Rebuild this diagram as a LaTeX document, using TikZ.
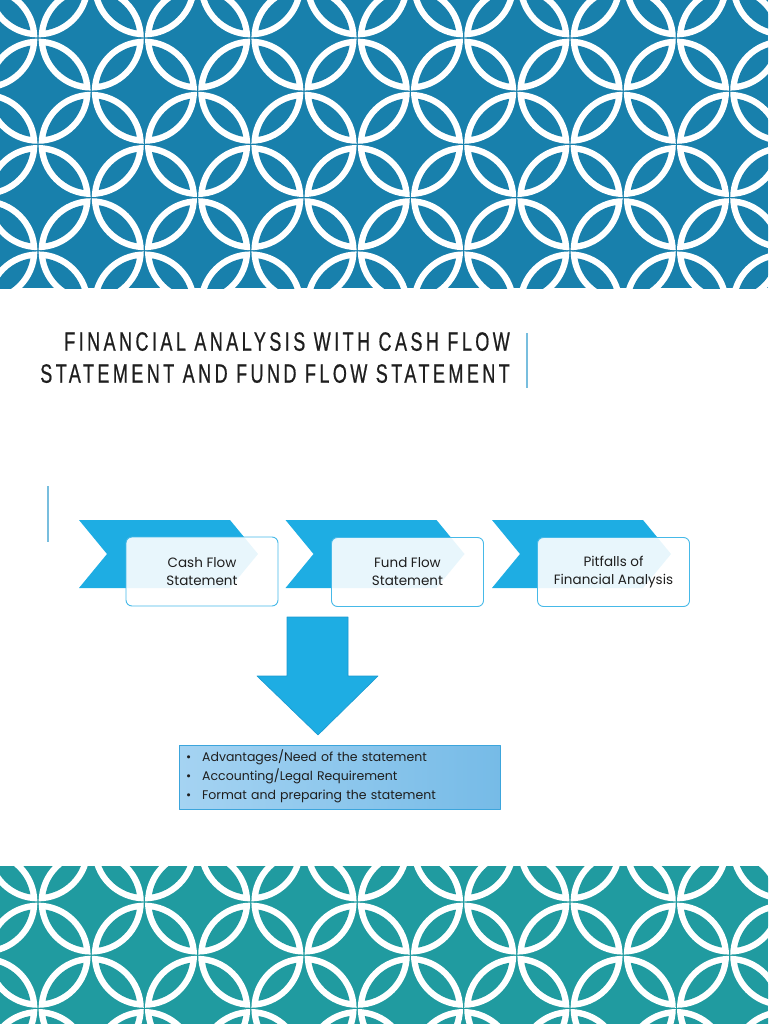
\documentclass[tikz,border=0pt]{standalone}
\usepackage{fontspec}
\setmainfont{Poppins}
\newfontfamily\titlefont[LetterSpace=13,FakeStretch=0.68,FakeBold=0.6]{Liberation Sans}
\definecolor{Topband}{RGB}{24,128,172}
\definecolor{Lowband}{RGB}{32,155,160}
\definecolor{Chev}{RGB}{30,173,227}
\definecolor{Chevline}{RGB}{26,152,208}
\definecolor{Boxline}{RGB}{70,185,232}
\definecolor{Bar}{RGB}{120,190,222}
\definecolor{Needl}{RGB}{165,211,242}
\definecolor{Needr}{RGB}{118,187,231}
\definecolor{Needline}{RGB}{60,165,220}
\definecolor{Ink}{RGB}{30,30,30}
\tikzset{
  chevron/.style={fill=Chev},
  stepbox/.style={draw=Boxline,line width=0.9pt,rounded corners=6pt,fill=white,fill opacity=0.9,text opacity=1,
    minimum width=152pt,minimum height=69pt,inner sep=0pt,align=center,text=Ink,
    font=\fontsize{13.5}{18}\selectfont},
  bar/.style={draw=Bar,line width=1.6pt}
}

\begin{document}
\begin{tikzpicture}[x=1pt,y=-1pt,line join=round]
\path[use as bounding box] (0,0) rectangle (768,1024);
\begin{scope}
\clip (0,0) rectangle (768,288);
\fill[Topband] (0,0) rectangle (768,288);
\foreach \i in {-1,...,15}{
  \foreach \j in {-1,...,6}{
    \pgfmathtruncatemacro\odd{mod(\i+\j+20,2)}
    \ifnum\odd=1
      \foreach \dj in {-1,1}{
        \begin{scope}
          \clip (38+53.2*\i,38+53.2*\j) circle[radius=52.6pt];
          \fill[white] (91.2+53.2*\i,38+53.2*\j+53.2*\dj) circle[radius=52.6pt];
          \clip (38+53.2*\i,38+53.2*\j) circle[radius=46.2pt];
          \fill[Topband] (91.2+53.2*\i,38+53.2*\j+53.2*\dj) circle[radius=46.2pt];
        \end{scope}
      }
    \fi
  }
}
\end{scope}
\begin{scope}
\clip (0,866) rectangle (768,1024);
\fill[Lowband] (0,866) rectangle (768,1024);
\foreach \i in {-1,...,15}{
  \foreach \j in {-1,...,3}{
    \pgfmathtruncatemacro\odd{mod(\i+\j+20,2)}
    \ifnum\odd=1
      \foreach \dj in {-1,1}{
        \begin{scope}
          \clip (38+53.2*\i,902+53.2*\j) circle[radius=52.6pt];
          \fill[white] (91.2+53.2*\i,902+53.2*\j+53.2*\dj) circle[radius=52.6pt];
          \clip (38+53.2*\i,902+53.2*\j) circle[radius=46.2pt];
          \fill[Lowband] (91.2+53.2*\i,902+53.2*\j+53.2*\dj) circle[radius=46.2pt];
        \end{scope}
      }
    \fi
  }
}
\end{scope}
\node[anchor=north east,inner sep=0pt,align=right,text=Ink,font=\titlefont\fontsize{26.5}{32}\selectfont] (title) at (510,332) {FINANCIAL ANALYSIS WITH CASH FLOW\\STATEMENT AND FUND FLOW STATEMENT};
\draw[bar] (527,333) -- (527,388);
\draw[bar] (48,486) -- (48,542);
\fill[chevron] (79,520) -- (230,520) -- (258,554) -- (230,588) -- (79,588) -- (107,554) -- cycle;
\fill[chevron] (285.5,520) -- (436.5,520) -- (464.5,554) -- (436.5,588) -- (285.5,588) -- (313.5,554) -- cycle;
\fill[chevron] (492,520) -- (643,520) -- (671,554) -- (643,588) -- (492,588) -- (520,554) -- cycle;
\node[stepbox] (cash) at (202,571.5) {Cash Flow\\Statement};
\node[stepbox] (fund) at (407.5,572) {Fund Flow\\Statement};
\node[stepbox] (pitfalls) at (613.5,572) {Pitfalls of\\Financial Analysis};
\filldraw[fill=Chev,draw=Chevline,line width=0.6pt] (287,617) -- (348,617) -- (348,676) -- (378,676) -- (318,735) -- (257,676) -- (287,676) -- cycle;
\node[draw=Needline,line width=0.8pt,left color=Needl,right color=Needr,minimum width=321pt,minimum height=64pt,
  text width=307pt,inner xsep=7pt,inner ysep=2pt,align=left,text=Ink,font=\fontsize{12.5}{19}\selectfont] (needs) at (339.5,777)
  {\begin{tabular}{@{}l@{\hspace{11pt}}l@{}}
  \textbullet & Advantages/Need of the statement\\
  \textbullet & Accounting/Legal Requirement\\
  \textbullet & Format and preparing the statement
  \end{tabular}};
\end{tikzpicture}
\end{document}
